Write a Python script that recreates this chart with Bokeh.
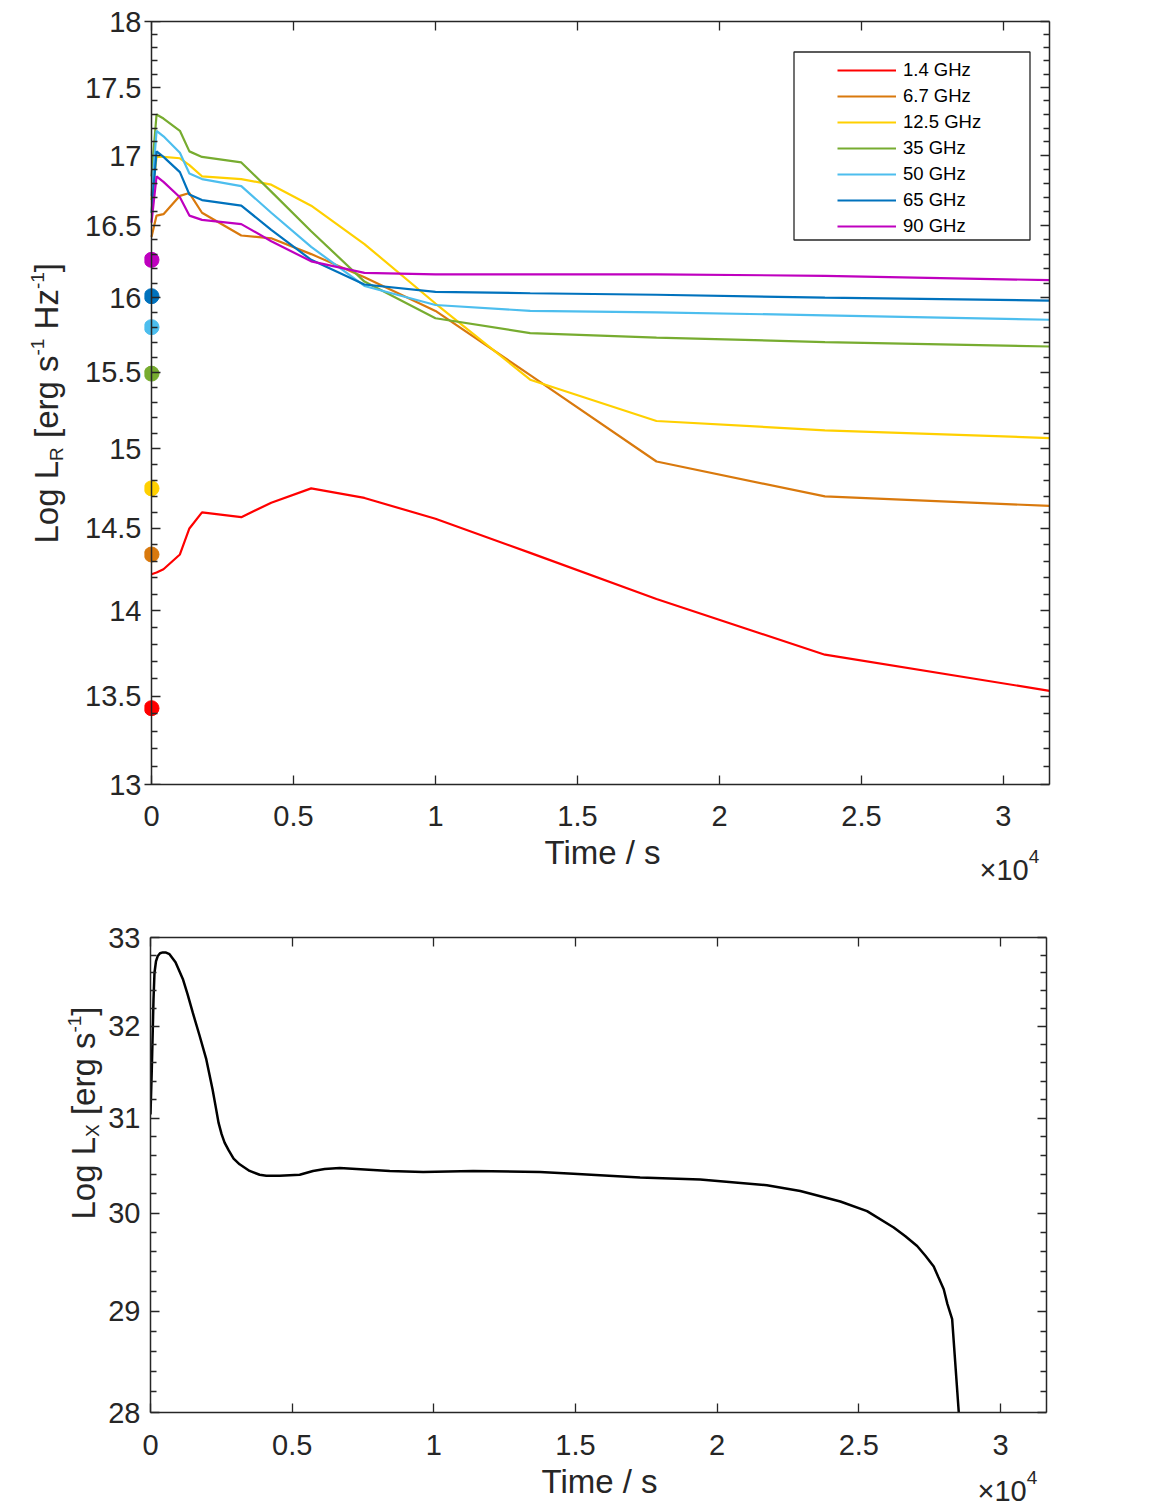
from math import log10, pi
from bokeh.plotting import figure
from bokeh.layouts import column, row
from bokeh.models import (FixedTicker, LinearAxis, LogAxis, Label, Legend, LegendItem,
                          BoxAnnotation, CustomJSTickFormatter, Range1d)
from bokeh.embed import file_html
from bokeh.resources import INLINE

# ---------------- data ----------------
freq_labels = ["1.4 GHz", "6.7 GHz", "12.5 GHz", "35 GHz", "50 GHz", "65 GHz", "90 GHz"]
colors = ["#FF0000", "#D9790D", "#FFD000", "#77AC30", "#4DBEEE", "#0072BD", "#BF00BF"]

time_radio = [0, 178, 422, 1000, 1334, 1778, 3162, 4217, 5623, 7499, 10000, 13335, 17783, 23714, 31623]
lr_1p4 = [14.22, 14.23, 14.25, 14.34, 14.50, 14.60, 14.57, 14.66, 14.75, 14.69, 14.56, 14.35, 14.07, 13.74, 13.53]
lr_6p7 = [16.42, 16.57, 16.58, 16.71, 16.73, 16.59, 16.43, 16.41, 16.30, 16.14, 15.91, 15.48, 14.92, 14.70, 14.64]
lr_12p5 = [16.68, 16.99, 16.99, 16.98, 16.93, 16.85, 16.83, 16.79, 16.64, 16.37, 15.96, 15.45, 15.18, 15.12, 15.07]
lr_35 = [16.85, 17.30, 17.27, 17.18, 17.03, 16.99, 16.95, 16.74, 16.46, 16.11, 15.86, 15.76, 15.73, 15.70, 15.67]
lr_50 = [16.71, 17.18, 17.14, 17.02, 16.87, 16.83, 16.78, 16.59, 16.35, 16.08, 15.95, 15.91, 15.90, 15.88, 15.85]
lr_65 = [16.59, 17.03, 16.99, 16.88, 16.72, 16.68, 16.64, 16.47, 16.26, 16.09, 16.04, 16.03, 16.02, 16.00, 15.98]
lr_90 = [16.52, 16.85, 16.81, 16.70, 16.57, 16.54, 16.51, 16.39, 16.25, 16.17, 16.16, 16.16, 16.16, 16.15, 16.12]
radio_series = [lr_1p4, lr_6p7, lr_12p5, lr_35, lr_50, lr_65, lr_90]

marker_time = [0, 0, 0, 0, 0, 0, 0]
marker_lr = [13.43, 14.34, 14.75, 15.49, 15.80, 16.01, 16.26]

time_xray = [0, 46, 81, 106, 141, 194, 258, 336, 435, 530, 671, 883, 1141, 1307, 1495, 1731,
             1968, 2191, 2297, 2403, 2509, 2615, 2756, 2933, 3145, 3498, 3852, 4088, 4558, 5265,
             5735, 6148, 6678, 8445, 9622, 11389, 13746, 14922, 17279, 19399, 21756, 22933,
             24346, 25290, 26230, 26643, 27057, 27350, 27643, 27809, 27996, 28127, 28293, 28527, 28580]
lx = [31.04, 31.53, 31.97, 32.30, 32.60, 32.73, 32.79, 32.82, 32.83, 32.83, 32.81, 32.72, 32.53, 32.36, 32.15, 31.90,
      31.64, 31.31, 31.13, 30.95, 30.83, 30.74, 30.66, 30.57, 30.51, 30.44, 30.40, 30.39, 30.39, 30.40,
      30.44, 30.46, 30.47, 30.44, 30.43, 30.44, 30.43, 30.41, 30.37, 30.35, 30.29, 30.23,
      30.12, 30.02, 29.85, 29.76, 29.66, 29.56, 29.45, 29.34, 29.22, 29.07, 28.92, 28.00, 27.70]

x_ticks = [0, 5000, 10000, 15000, 20000, 25000, 30000]
y1_ticks = [13, 13.5, 14, 14.5, 15, 15.5, 16, 16.5, 17, 17.5, 18]
y1_minor = [round(13 + 0.1 * i, 1) for i in range(51) if i % 5]
y2_ticks = [28, 29, 30, 31, 32, 33]
y2_minor = [round(28 + 0.2 * i, 1) for i in range(26) if i % 5]

# ---------------- style / geometry ----------------
FONT = "Liberation Sans"
AX = "#262626"
TICK_FS = "29px"
LAB_FS = 33
SUB_FS = 19
XMAX = 31623
O = 1          # page origin of the layout
BASE_K = 0.31  # label baseline correction (em)

CW = {" ": 278, "L": 556, "o": 556, "g": 556, "R": 722, "X": 667, "[": 278, "]": 278,
      "e": 556, "r": 333, "s": 500, "-": 333, "1": 556, "H": 722, "z": 500,
      "×": 584, "0": 556, "4": 556, "T": 611, "i": 222, "m": 833, "/": 278}


def tw(s, size):
    return sum(CW.get(c, 556) for c in s) * size / 1000.0


def tick_style(ax):
    ax.axis_line_color = AX
    ax.axis_line_width = 1.5
    ax.major_tick_line_color = AX
    ax.minor_tick_line_color = AX
    ax.major_tick_line_width = 1.3
    ax.minor_tick_line_width = 1.3
    ax.major_tick_in = 9
    ax.major_tick_out = 0
    ax.minor_tick_in = 6
    ax.minor_tick_out = 0


def hide_labels(ax):
    ax.major_label_text_font_size = "1px"
    ax.major_label_text_color = None
    ax.major_label_standoff = 0


def style_axes(p, ymaj, ymin_, x_standoff, split_left=False):
    xt = FixedTicker(ticks=x_ticks, minor_ticks=[])
    yt = FixedTicker(ticks=ymaj, minor_ticks=ymin_)
    p.xgrid.visible = False
    p.ygrid.visible = False
    p.outline_line_color = None
    for ax in [p.xaxis[0], p.yaxis[0]]:
        tick_style(ax)
        ax.major_label_text_font = FONT
        ax.major_label_text_font_size = TICK_FS
        ax.major_label_text_color = AX
    p.xaxis[0].ticker = xt
    p.xaxis[0].formatter = CustomJSTickFormatter(code="return (tick/1e4).toString();")
    p.xaxis[0].major_label_standoff = x_standoff
    p.yaxis[0].ticker = yt
    p.yaxis[0].formatter = CustomJSTickFormatter(code="return tick.toString();")
    p.yaxis[0].major_label_standoff = 10
    top = LinearAxis(ticker=xt)
    right = LogAxis(ticker=yt)
    for ax in [top, right]:
        tick_style(ax)
        hide_labels(ax)
    p.add_layout(top, "above")
    p.add_layout(right, "right")
    if split_left:
        # labels stay on the panel axis, the drawn axis line sits at t = 0
        la = p.yaxis[0]
        la.axis_line_color = None
        la.major_tick_line_color = None
        la.minor_tick_line_color = None
        la.major_label_standoff = 3
        inner = LogAxis(ticker=yt, fixed_location=0)
        tick_style(inner)
        hide_labels(inner)
        p.add_layout(inner, "left")


def text_fig(w, h, ytop=None, ybot=None):
    """text-only figure; when placed in a row its frame aligns with the neighbour's frame,
    so the y range is given directly in page pixels of that frame (reversed)."""
    yr = Range1d(ybot, ytop) if ytop is not None else Range1d(0, h)
    f = figure(width=w, height=h, x_range=Range1d(0, w), y_range=yr,
               x_axis_location=None, y_axis_location=None, min_border=0,
               toolbar_location=None, output_backend="svg", outline_line_color=None,
               background_fill_color="white", border_fill_color="white")
    f.grid.visible = False
    return f


def vlabel(f, left, parts, bx, y_start):
    """rotated label (reads upward) built from centred pieces; y in page px"""
    y = y_start
    for text, size, shift in parts:
        stripped = text.lstrip(" ")
        y -= tw(text[: len(text) - len(stripped)], size)
        w = tw(stripped, size)
        yc = y - w / 2
        f.add_layout(Label(x=bx + shift - BASE_K * size - left, y=yc, text=stripped,
                           angle=pi / 2, text_font=FONT, text_font_size=f"{size}px",
                           text_color=AX, text_align="center", text_baseline="alphabetic"))
        y -= w


def hlabel(f, left, bottom, parts, x_start, by, align="left"):
    x = x_start
    for text, size, shift in parts:
        f.add_layout(Label(x=x - left, y=bottom - (by + shift - BASE_K * size), text=text,
                           text_align=align, text_font=FONT, text_font_size=f"{size}px",
                           text_color=AX, text_baseline="alphabetic"))
        x += tw(text, size)


# ---------------- top panel ----------------
F1L, F1T, F1W, F1H = 145, 22, 905, 763     # frame; t = 0 sits at page x 152
X0 = 7 * XMAX / 898
WL1 = 72
B1 = 48
H1 = (F1T - O) + F1H + B1
p1 = figure(frame_width=F1W, frame_height=F1H, x_range=(-X0, XMAX), y_range=(13, 18),
            y_axis_type="log", output_backend="svg", toolbar_location=None,
            min_border_left=F1L - O - WL1, min_border_top=F1T - O, min_border_bottom=B1,
            min_border_right=50, background_fill_color="white", border_fill_color="white")
style_axes(p1, y1_ticks, y1_minor, 21, split_left=True)


def px2t1(px):
    return (px - 152) / 898 * XMAX


def py2v1(py):
    return 10 ** (log10(18) - (py - F1T) / F1H * log10(18 / 13))


renderers = []
for vals, col in zip(radio_series, colors):
    renderers.append(p1.line(time_radio, vals, line_color=col, line_width=2.2))
p1.scatter(marker_time, marker_lr, size=15, fill_color=colors, line_color=colors)

box = BoxAnnotation(left=px2t1(794.5), right=px2t1(1030.5), top=py2v1(52.5), bottom=py2v1(240.5),
                    fill_color="white", fill_alpha=1.0, line_color=AX, line_width=1.3, line_alpha=1.0)
p1.add_layout(box)
legend = Legend(items=[LegendItem(label=lab, renderers=[r]) for lab, r in zip(freq_labels, renderers)],
                location=(838 - F1L, F1T + F1H - 238), padding=0, spacing=4, glyph_width=59,
                glyph_height=20, label_height=20, label_standoff=7, label_text_font=FONT,
                label_text_font_size="18.5px", label_text_color="#000000", border_line_color=None,
                background_fill_alpha=0, margin=0)
p1.add_layout(legend)

ylab1 = text_fig(WL1, H1, ytop=F1T, ybot=F1T + F1H)
vlabel(ylab1, O,
       [("Log L", LAB_FS, 0), ("R", SUB_FS, 6), (" [erg s", LAB_FS, 0), ("-1", SUB_FS, -13),
        (" Hz", LAB_FS, 0), ("-1", SUB_FS, -13), ("]", LAB_FS, 0)], 57, 544)

S1T = O + H1
S1H = 57
W_ALL = WL1 + (F1L - O - WL1) + F1W + 50
strip1 = text_fig(W_ALL, S1H)
hlabel(strip1, O, S1T + S1H, [("Time / s", LAB_FS, 0)], 603, 863, align="center")
hlabel(strip1, O, S1T + S1H, [("×10", 29, 0), ("4", SUB_FS, -16)], 980, 879)

# ---------------- bottom panel ----------------
F2L, F2T, F2W, F2H = 151, 938, 896, 475
P2T = S1T + S1H
WL2 = 103
B2 = 50
H2 = (F2T - P2T) + F2H + B2
p2 = figure(frame_width=F2W, frame_height=F2H, x_range=(0, XMAX), y_range=(28, 33),
            y_axis_type="log", output_backend="svg", toolbar_location=None,
            min_border_left=F2L - O - WL2, min_border_top=F2T - P2T, min_border_bottom=B2,
            min_border_right=W_ALL - (F2L - O) - F2W, background_fill_color="white",
            border_fill_color="white")
style_axes(p2, y2_ticks, y2_minor, 22)
p2.line(time_xray, lx, line_color="#000000", line_width=2.5)

ylab2 = text_fig(WL2, H2, ytop=F2T, ybot=F2T + F2H)
vlabel(ylab2, O,
       [("Log L", LAB_FS, 0), ("X", SUB_FS, 5), (" [erg s", LAB_FS, 0), ("-1", SUB_FS, -13),
        ("]", LAB_FS, 0)], 94, 1220)

S2T = P2T + H2
S2H = 1507 - S2T
strip2 = text_fig(W_ALL, S2H)
hlabel(strip2, O, S2T + S2H, [("Time / s", LAB_FS, 0)], 600, 1492, align="center")
hlabel(strip2, O, S2T + S2H, [("×10", 29, 0), ("4", SUB_FS, -16)], 978, 1500)

layout = column(row(ylab1, p1, spacing=0), strip1, row(ylab2, p2, spacing=0), strip2, spacing=0)
open("out.html", "w").write(file_html(layout, INLINE))
